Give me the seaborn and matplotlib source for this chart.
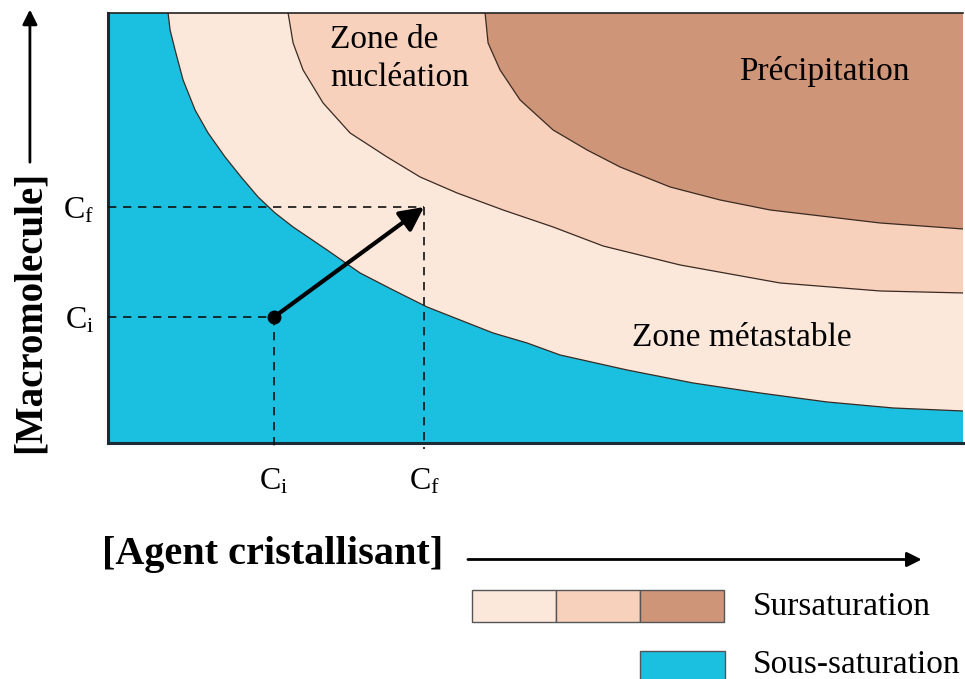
import matplotlib
matplotlib.use('Agg')
import matplotlib.pyplot as plt
import seaborn as sns
from matplotlib.patches import Rectangle, FancyArrowPatch

# === Data: phase boundaries (arbitrary units) ===
# x = [agent cristallisant], y = [macromolecule]
sol_x = [60, 62, 67, 75, 87, 100, 117, 133, 150, 167, 185, 219, 252, 285, 319, 352, 385, 419, 452,
         519, 585, 652, 719, 785, 855]
sol_y = [430, 413, 393, 363, 333, 310, 286, 266, 246, 230, 216, 193, 170, 153, 136, 123, 110, 100, 88,
         73, 60, 50, 41, 35, 32]

nuc_x = [180, 185, 195, 215, 242, 279, 312, 349, 395, 445, 495, 572, 672, 772, 855]
nuc_y = [430, 400, 373, 340, 310, 286, 266, 250, 233, 216, 197, 178, 160, 152, 150]

pre_x = [377, 380, 392, 412, 445, 479, 512, 562, 612, 662, 772, 855]
pre_y = [430, 400, 373, 343, 313, 293, 276, 256, 243, 233, 220, 214]

# initial and final concentrations
ci = (166, 126)
cf = (316, 236)
tick_labels = [r'C$_{\rm i}$', r'C$_{\rm f}$']

zone_labels = ['Zone de\nnucléation', 'Précipitation', 'Zone métastable']
legend_labels = ['Sursaturation', 'Sous-saturation']

# === Colours ===
c_blue = '#1bbfe0'
c_meta = '#fce7db'
c_nuc = '#f8d1bc'
c_pre = '#cf9578'
c_edge = '#3a2a22'

# === Style ===
sns.set_theme(style='white')
plt.rcParams['font.family'] = ['Liberation Serif', 'DejaVu Serif']
plt.rcParams['mathtext.fontset'] = 'custom'
plt.rcParams['mathtext.rm'] = 'Liberation Serif'
plt.rcParams['mathtext.it'] = 'Liberation Serif:italic'
plt.rcParams['text.color'] = 'black'
plt.rcParams['xtick.color'] = 'black'
plt.rcParams['ytick.color'] = 'black'

fig = plt.figure(figsize=(9.65, 6.79), dpi=100)
ax = fig.add_axes([0.112, 0.3476, 0.886, 0.6333])
ax.set_xlim(0, 855)
ax.set_ylim(0, 430)

# === Zones ===
ax.fill_between([0, 855], 0, 430, color=c_blue, lw=0, zorder=0)
for xs, ys, col in [(sol_x, sol_y, c_meta), (nuc_x, nuc_y, c_nuc), (pre_x, pre_y, c_pre)]:
    ax.fill(list(xs) + [855, xs[0]], list(ys) + [430, 430], color=col, lw=0, zorder=1)
    sns.lineplot(x=xs, y=ys, sort=False, estimator=None, color=c_edge, lw=0.9, ax=ax, zorder=2)

# === Path Ci -> Cf ===
dash = (0, (5, 4))
ax.plot([0, ci[0]], [ci[1], ci[1]], color='#111111', lw=1.2, linestyle=dash, zorder=3)
ax.plot([ci[0], ci[0]], [ci[1], -6], color='#111111', lw=1.2, linestyle=dash, zorder=3, clip_on=False)
ax.plot([0, cf[0]], [cf[1], cf[1]], color='#111111', lw=1.2, linestyle=dash, zorder=3)
ax.plot([cf[0], cf[0]], [cf[1], -6], color='#111111', lw=1.2, linestyle=dash, zorder=3, clip_on=False)
ax.annotate('', xy=cf, xytext=ci,
            arrowprops=dict(arrowstyle='-|>', lw=3, color='black', mutation_scale=36,
                            shrinkA=0, shrinkB=0), zorder=5)
ax.plot([ci[0]], [ci[1]], 'o', color='black', markersize=9, zorder=6)

# === Zone labels ===
ax.text(222, 384, zone_labels[0], fontsize=24, ha='left', va='center', linespacing=1.3, zorder=7)
ax.text(716, 371, zone_labels[1], fontsize=24, ha='center', va='center', zorder=7)
ax.text(634, 105, zone_labels[2], fontsize=24, ha='center', va='center', zorder=7)

# === Axes ===
ax.set_xticks([ci[0], cf[0]])
ax.set_xticklabels(tick_labels, fontsize=23)
ax.set_yticks([ci[1], cf[1]])
ax.set_yticklabels(tick_labels, fontsize=23)
ax.tick_params(axis='x', length=0, pad=17)
ax.tick_params(axis='y', length=0, pad=10)
for s in ['left', 'bottom']:
    ax.spines[s].set_color('#1c2a36')
    ax.spines[s].set_linewidth(2.2)
ax.spines['top'].set_color('#222222')
ax.spines['top'].set_linewidth(1.2)
ax.spines['right'].set_visible(False)

# axis titles with arrows
fig.text(0.031, 0.54, '[Macromolecule]', rotation=90, fontsize=28, fontweight='bold',
         ha='center', va='center')
fig.text(0.282, 0.183, '[Agent cristallisant]', fontsize=29, fontweight='bold',
         ha='center', va='center')
fig.add_artist(FancyArrowPatch((0.031, 0.757), (0.031, 0.99), transform=fig.transFigure,
                               arrowstyle='-|>', mutation_scale=22, lw=2, color='black'))
fig.add_artist(FancyArrowPatch((0.482, 0.176), (0.958, 0.176), transform=fig.transFigure,
                               arrowstyle='-|>', mutation_scale=22, lw=2, color='black'))

# === Legend ===
for i, col in enumerate([c_meta, c_nuc, c_pre]):
    fig.add_artist(Rectangle((0.489 + i * 0.087, 0.084), 0.087, 0.047, transform=fig.transFigure,
                             facecolor=col, edgecolor='#555555', lw=1))
fig.add_artist(Rectangle((0.663, -0.02), 0.088, 0.061, transform=fig.transFigure,
                         facecolor=c_blue, edgecolor='#555555', lw=1))
fig.text(0.780, 0.106, legend_labels[0], fontsize=24, ha='left', va='center')
fig.text(0.780, 0.021, legend_labels[1], fontsize=24, ha='left', va='center')

fig.savefig('out.png', dpi=100, facecolor='white')
